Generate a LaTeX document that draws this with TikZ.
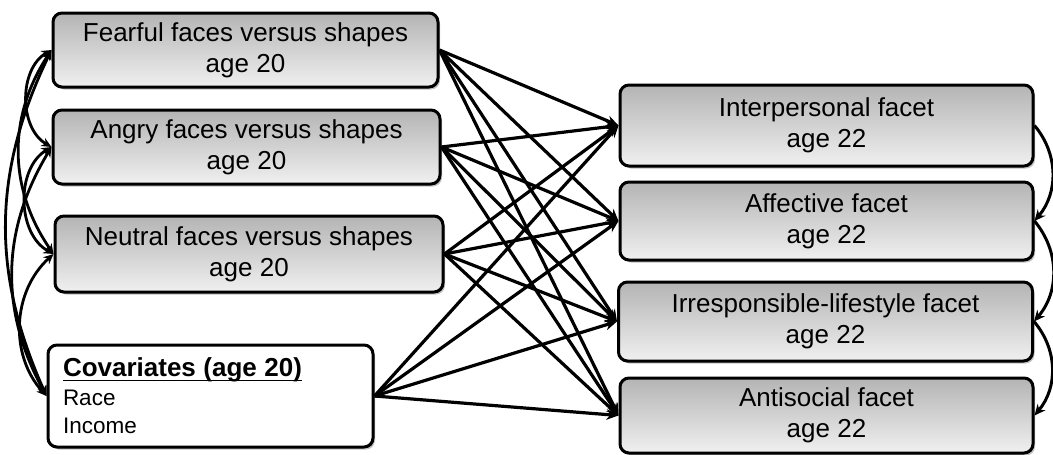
\documentclass[tikz,border=0pt]{standalone}
\usepackage{fontspec}
\setmainfont{Liberation Sans}
\usetikzlibrary{arrows.meta,shadows}
\definecolor{gradtop}{RGB}{180,180,180}
\definecolor{gradbot}{RGB}{240,240,240}
\newlength\covw
\begin{document}
\begin{tikzpicture}[x=1pt,y=1pt,
  box/.style={draw=black, line width=3pt, rounded corners=9pt,
    top color=gradtop, bottom color=gradbot,
    drop shadow={shadow xshift=2pt, shadow yshift=-2.5pt, fill=black!60, opacity=0.4},
    align=center, inner sep=0pt, font=\fontsize{26}{31}\selectfont},
  cbox/.style={draw=black, line width=3pt, rounded corners=9pt, fill=white,
    drop shadow={shadow xshift=2pt, shadow yshift=-2.5pt, fill=black!60, opacity=0.4},
    align=left, inner xsep=15pt, inner ysep=0pt, font=\fontsize{22.5}{28.5}\selectfont},
  arr/.style={line width=3.2pt, -{Stealth[length=12pt,width=10.5pt]}},
  corr/.style={line width=2.8pt, {Stealth[length=10pt,width=9pt]}-{Stealth[length=10pt,width=9pt]}},
  rcorr/.style={line width=3pt, -{Stealth[length=11pt,width=10pt]}}]
\useasboundingbox (0,0) rectangle (1053,-455);

% left boxes
\node[box, minimum width=385, minimum height=74] (F) at (245.5,-50) {Fearful faces versus shapes\\age 20};
\node[box, minimum width=387, minimum height=74] (A) at (246.5,-147) {Angry faces versus shapes\\age 20};
\node[box, minimum width=388, minimum height=76] (N) at (249,-254) {Neutral faces versus shapes\\age 20};
\node[cbox, minimum width=325, minimum height=102, text width=295] (C) at (210.5,-396)
  {{\fontsize{26}{28.5}\selectfont\bfseries\settowidth{\covw}{Covariates (age 20)}\rlap{\rule[-4.5pt]{\covw}{1.8pt}}Covariates (age 20)}\\
   Race\\
   Income};

% right boxes
\node[box, minimum width=413, minimum height=81] (I) at (826.5,-125.5) {Interpersonal facet\\age 22};
\node[box, minimum width=413, minimum height=78] (Af) at (826.5,-221) {Affective facet\\age 22};
\node[box, minimum width=414, minimum height=79] (Ir) at (825.5,-321.5) {Irresponsible-lifestyle facet\\age 22};
\node[box, minimum width=413, minimum height=75] (As) at (826.5,-415.5) {Antisocial facet\\age 22};

% paths
\foreach \s in {F,A,N,C}{
  \foreach \t in {I,Af,Ir,As}{
    \draw[arr] (\s.east) -- (\t.west);
  }
}

% left correlations
\draw[corr] (F.west) to[bend right=60] (A.west);
\draw[corr] (A.west) to[bend right=60] (N.west);
\draw[corr] (N.west) to[bend right=45] (C.west);
\draw[corr] (F.west) to[bend right=34] (N.west);
\draw[corr] (A.west) to[bend right=30] (C.west);
\draw[corr] (F.west) to[bend right=25] (C.west);

% right correlations
\draw[rcorr] (I.east) to[bend left=40] (Af.east);
\draw[rcorr] (Af.east) to[bend left=40] (Ir.east);
\draw[rcorr] (Ir.east) to[bend left=40] (As.east);
\end{tikzpicture}
\end{document}
